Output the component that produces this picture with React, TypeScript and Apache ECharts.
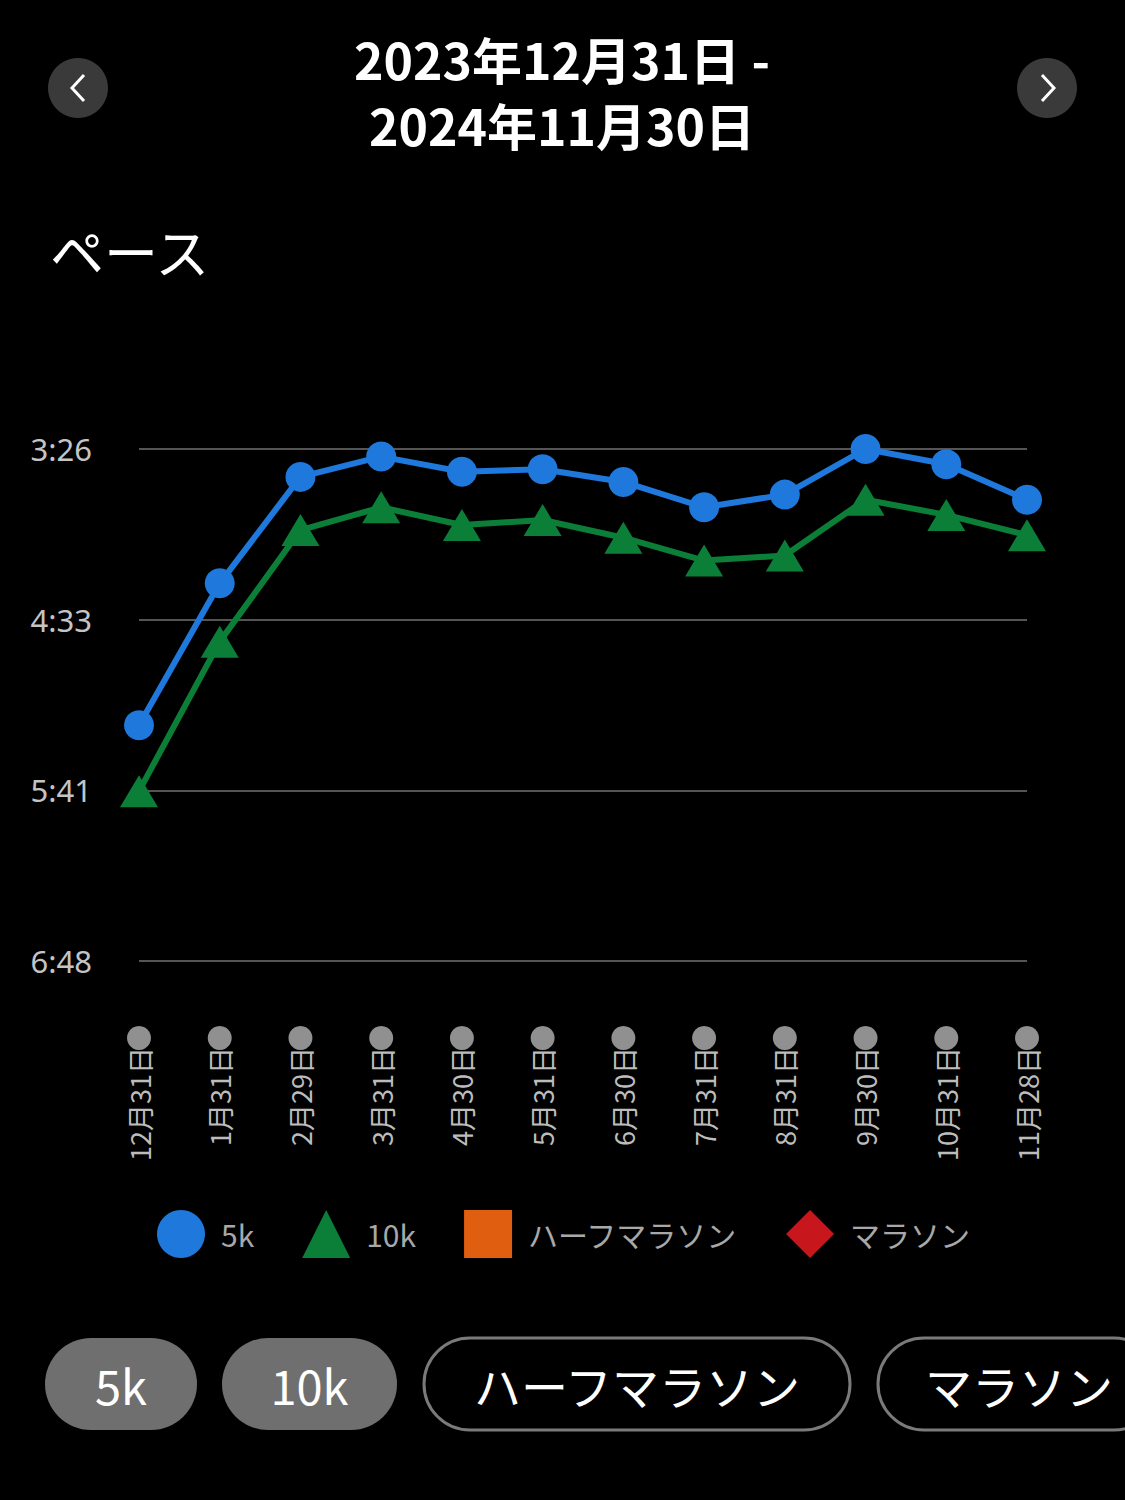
import React, { useEffect, useRef } from 'react';
import * as echarts from 'echarts';

// pace in seconds per km
const DATES = ['12月31日', '1月31日', '2月29日', '3月31日', '4月30日', '5月31日', '6月30日', '7月31日', '8月31日', '9月30日', '10月31日', '11月28日'];
const PACE_5K = [315, 259, 217, 209, 215, 214, 219, 229, 224, 206, 212, 226];
const PACE_10K = [341, 282, 238, 229, 236, 234, 241, 250, 248, 226, 232, 240];
const PACE_HALF: number[] = [];
const PACE_FULL: number[] = [];

// y axis: top tick and tick step in seconds
const PACE_MIN = 206;
const PACE_STEP = 202 / 3;
const PACE_TICKS = ['3:26', '4:33', '5:41', '6:48'];

const LEGEND = ['5k', '10k', 'ハーフマラソン', 'マラソン'];
const BUTTONS = ['5k', '10k', 'ハーフマラソン', 'マラソン'];

const FONT = '"Noto Sans CJK JP", "Noto Sans", sans-serif';

const App: React.FC = () => {
  const chartRef = useRef<HTMLDivElement>(null);

  useEffect(() => {
    if (!chartRef.current) return;
    document.body.style.margin = '0';
    document.body.style.background = '#000';

    const chart = echarts.init(chartRef.current, null, { renderer: 'svg' });
    const toAxis = (arr: number[]) => arr.map((v) => v - PACE_MIN);

    const pill = (x: number, w: number, label: string, filled: boolean) => ({
      type: 'group',
      children: [
        {
          type: 'rect',
          shape: { x, y: 1338, width: w, height: 92, r: 46 },
          style: filled
            ? { fill: '#6f6f6f' }
            : { fill: 'none', stroke: '#7a7a7a', lineWidth: 3 }
        },
        {
          type: 'text',
          x: x + w / 2,
          y: 1384,
          style: {
            text: label,
            fill: '#fff',
            font: `47px ${FONT}`,
            textAlign: 'center',
            textVerticalAlign: 'middle'
          }
        }
      ]
    });

    const option: echarts.EChartsOption = {
      backgroundColor: '#000',
      animation: false,
      grid: [
        { left: 139, right: 98, top: 449, height: 512 },
        { left: 139, right: 98, top: 1028, height: 20 }
      ],
      xAxis: [
        {
          type: 'category',
          data: DATES,
          boundaryGap: false,
          axisLine: { show: false },
          axisTick: { show: false },
          axisLabel: {
            rotate: 90,
            margin: 86,
            color: '#bcbcbc',
            fontSize: 27,
            fontFamily: FONT
          }
        },
        {
          type: 'category',
          gridIndex: 1,
          data: DATES,
          boundaryGap: false,
          show: false
        }
      ],
      yAxis: [
        {
          type: 'value',
          inverse: true,
          min: 0,
          max: PACE_STEP * 3,
          interval: PACE_STEP,
          axisLine: { show: false },
          axisTick: { show: false },
          splitLine: { lineStyle: { color: '#555', width: 2 } },
          axisLabel: {
            margin: 47,
            color: '#c4c4c4',
            fontSize: 31,
            fontFamily: '"Noto Sans", sans-serif',
            formatter: (_v: number, i: number) => PACE_TICKS[i] ?? ''
          }
        },
        { type: 'value', gridIndex: 1, min: -1, max: 1, show: false }
      ],
      legend: {
        top: 1205,
        left: 152,
        itemWidth: 48,
        itemHeight: 48,
        itemGap: 48,
        selectedMode: false,
        textStyle: {
          color: '#a8a8a8',
          fontSize: 30,
          fontFamily: FONT,
          padding: [0, 0, 0, 11]
        },
        data: [
          { name: LEGEND[0], icon: 'circle' },
          { name: LEGEND[1], icon: 'triangle' },
          { name: LEGEND[2], icon: 'rect' },
          { name: LEGEND[3], icon: 'diamond' }
        ]
      },
      series: [
        {
          name: LEGEND[0],
          type: 'line',
          data: toAxis(PACE_5K),
          color: '#1f78dc',
          symbol: 'circle',
          symbolSize: 30,
          lineStyle: { width: 6 },
          z: 3
        },
        {
          name: LEGEND[1],
          type: 'line',
          data: toAxis(PACE_10K),
          color: '#0b7f38',
          symbol: 'triangle',
          symbolSize: [38, 32],
          lineStyle: { width: 6 },
          z: 2
        },
        {
          name: LEGEND[2],
          type: 'line',
          data: toAxis(PACE_HALF),
          color: '#e05e10',
          symbol: 'rect'
        },
        {
          name: LEGEND[3],
          type: 'line',
          data: toAxis(PACE_FULL),
          color: '#c8161d',
          symbol: 'diamond'
        },
        {
          type: 'scatter',
          xAxisIndex: 1,
          yAxisIndex: 1,
          data: DATES.map(() => 0),
          symbolSize: 24,
          itemStyle: { color: '#b4b4b4' },
          silent: true
        }
      ],
      graphic: [
        {
          type: 'text',
          x: 562,
          y: 58,
          style: {
            text: '2023年12月31日 -',
            fill: '#fff',
            font: `bold 50px ${FONT}`,
            textAlign: 'center',
            textVerticalAlign: 'middle'
          }
        },
        {
          type: 'text',
          x: 562,
          y: 124,
          style: {
            text: '2024年11月30日',
            fill: '#fff',
            font: `bold 50px ${FONT}`,
            textAlign: 'center',
            textVerticalAlign: 'middle'
          }
        },
        { type: 'circle', shape: { cx: 78, cy: 88, r: 30 }, style: { fill: '#3a3a3a' } },
        {
          type: 'polyline',
          shape: { points: [[84, 75], [72, 88], [84, 101]] },
          style: { stroke: '#fff', lineWidth: 3, fill: 'none' }
        },
        { type: 'circle', shape: { cx: 1047, cy: 88, r: 30 }, style: { fill: '#3a3a3a' } },
        {
          type: 'polyline',
          shape: { points: [[1042, 75], [1054, 88], [1042, 101]] },
          style: { stroke: '#fff', lineWidth: 3, fill: 'none' }
        },
        {
          type: 'text',
          x: 50,
          y: 250,
          style: {
            text: 'ペース',
            fill: '#fff',
            font: `54px ${FONT}`,
            textVerticalAlign: 'middle'
          }
        },
        pill(45, 152, BUTTONS[0], true),
        pill(222, 175, BUTTONS[1], true),
        pill(424, 426, BUTTONS[2], false),
        pill(878, 282, BUTTONS[3], false)
      ]
    };

    // eslint-disable-next-line @typescript-eslint/no-explicit-any
    chart.setOption(option as any);

    return () => {
      chart.dispose();
    };
  }, []);

  return <div ref={chartRef} style={{ width: 1125, height: 1500 }} />;
};

export default App;
